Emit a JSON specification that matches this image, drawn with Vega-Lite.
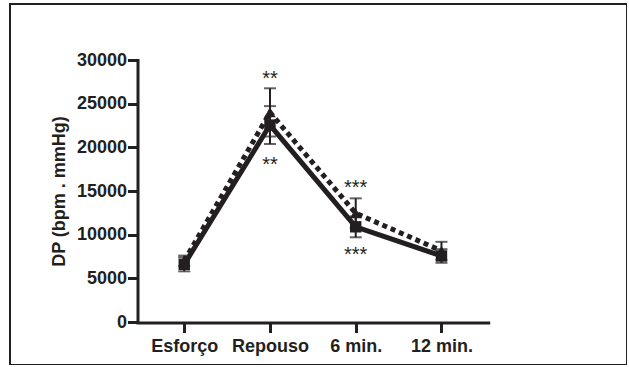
{
  "$schema": "https://vega.github.io/schema/vega-lite/v6.json",
  "autosize": "none",
  "padding": {"left": 10, "top": 4, "right": 0, "bottom": 0},
  "width": 617,
  "height": 361,
  "background": "white",
  "config": {
    "view": {"stroke": "#231f20", "strokeWidth": 2},
    "font": "Liberation Sans"
  },
  "datasets": {
    "points": [
      {"group": "Solid", "time": "Esforço", "mean": 6600, "lo": 5800, "hi": 7400},
      {"group": "Solid", "time": "Repouso", "mean": 22550, "lo": 20380, "hi": 24720},
      {"group": "Solid", "time": "6 min.", "mean": 10900, "lo": 9700, "hi": 12100},
      {"group": "Solid", "time": "12 min.", "mean": 7560, "lo": 6780, "hi": 8340},
      {"group": "Dotted", "time": "Esforço", "mean": 7000, "lo": 6400, "hi": 7600},
      {"group": "Dotted", "time": "Repouso", "mean": 24000, "lo": 21240, "hi": 26760},
      {"group": "Dotted", "time": "6 min.", "mean": 12450, "lo": 10740, "hi": 14160},
      {"group": "Dotted", "time": "12 min.", "mean": 8150, "lo": 7120, "hi": 9180}
    ],
    "stars": [
      {"time": "Repouso", "y": 28430, "label": "**"},
      {"time": "Repouso", "y": 18520, "label": "**"},
      {"time": "6 min.", "y": 15860, "label": "***"},
      {"time": "6 min.", "y": 8230, "label": "***"}
    ]
  },
  "encoding": {
    "x": {
      "field": "time", "type": "nominal",
      "scale": {"type": "point", "domain": ["Esforço", "Repouso", "6 min.", "12 min."], "range": [127.5, 478.2], "padding": 0.545},
      "axis": {
        "orient": "bottom", "offset": -42.5, "title": null, "labelAngle": 0,
        "labelFont": "Liberation Sans", "labelFontWeight": "bold", "labelFontSize": 18, "labelColor": "#231f20",
        "labelPadding": 5, "domainColor": "#231f20", "domainWidth": 3, "domainCap": "square",
        "tickColor": "#231f20", "tickWidth": 3, "tickSize": 10, "grid": false
      }
    },
    "y": {
      "type": "quantitative",
      "scale": {"domain": [0, 30000], "range": [318, 56], "nice": false, "zero": false},
      "axis": {
        "orient": "left", "offset": -127.5, "values": [0, 5000, 10000, 15000, 20000, 25000, 30000], "format": "d",
        "title": "DP (bpm . mmHg)", "titleFont": "Liberation Sans", "titleFontWeight": "bold", "titleFontSize": 18,
        "titleColor": "#231f20", "titlePadding": 8,
        "labelFont": "Liberation Sans", "labelFontWeight": "bold", "labelFontSize": 18, "labelColor": "#231f20",
        "labelPadding": 1, "domainColor": "#231f20", "domainWidth": 3, "domainCap": "square",
        "tickColor": "#231f20", "tickWidth": 3, "tickSize": 10, "grid": false
      }
    }
  },
  "layer": [
    {
      "data": {"name": "points"},
      "transform": [{"filter": "datum.group === 'Dotted'"}],
      "mark": {"type": "line", "color": "#231f20", "strokeWidth": 5, "strokeDash": [5, 4]},
      "encoding": {"y": {"field": "mean"}}
    },
    {
      "data": {"name": "points"},
      "transform": [{"filter": "datum.group === 'Solid'"}],
      "mark": {"type": "line", "color": "#231f20", "strokeWidth": 5},
      "encoding": {"y": {"field": "mean"}}
    },
    {
      "data": {"name": "points"},
      "mark": {"type": "rule", "color": "#231f20", "strokeWidth": 2},
      "encoding": {"y": {"field": "lo"}, "y2": {"field": "hi"}}
    },
    {
      "data": {"name": "points"},
      "mark": {"type": "tick", "color": "#231f20", "thickness": 2, "size": 12, "orient": "horizontal"},
      "encoding": {"y": {"field": "lo"}}
    },
    {
      "data": {"name": "points"},
      "mark": {"type": "tick", "color": "#231f20", "thickness": 2, "size": 12, "orient": "horizontal"},
      "encoding": {"y": {"field": "hi"}}
    },
    {
      "data": {"name": "points"},
      "transform": [{"filter": "datum.group === 'Dotted'"}],
      "mark": {"type": "point", "shape": "triangle-up", "filled": true, "color": "#231f20", "size": 130, "opacity": 1},
      "encoding": {"y": {"field": "mean"}}
    },
    {
      "data": {"name": "points"},
      "transform": [{"filter": "datum.group === 'Solid'"}],
      "mark": {"type": "point", "shape": "square", "filled": true, "color": "#231f20", "size": 130, "opacity": 1},
      "encoding": {"y": {"field": "mean"}}
    },
    {
      "data": {"name": "stars"},
      "mark": {"type": "text", "font": "Liberation Sans", "fontSize": 20, "color": "#231f20", "baseline": "middle", "dy": 5},
      "encoding": {"y": {"field": "y"}, "text": {"field": "label"}}
    }
  ]
}
